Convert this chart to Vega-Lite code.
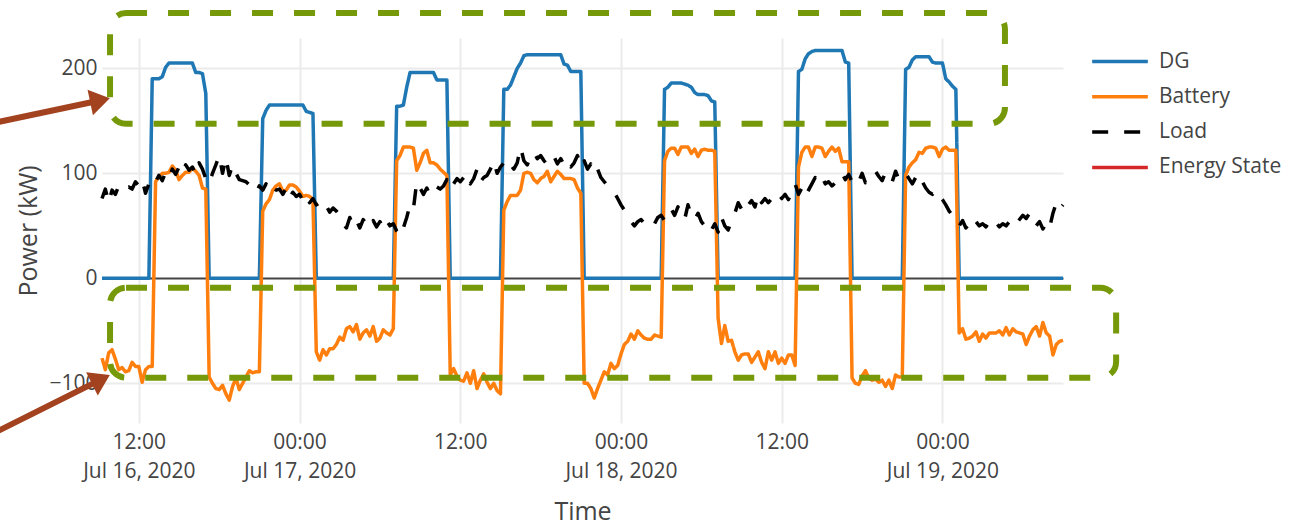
{
  "$schema": "https://vega.github.io/schema/vega-lite/v6.json",
  "autosize": {"type": "none"},
  "padding": {"left": 102, "top": 38, "right": 241, "bottom": 103},
  "width": 961,
  "height": 385,
  "background": "white",
  "config": {
    "view": {"stroke": null},
    "font": "Open Sans",
    "axis": {
      "labelFont": "Open Sans", "titleFont": "Open Sans", "labelColor": "#444", "titleColor": "#444",
      "titleFontWeight": "normal", "domain": false, "ticks": false, "gridColor": "#ebebeb", "gridWidth": 2,
      "labelFontSize": 21, "titleFontSize": 25
    },
    "legend": {"labelFont": "Open Sans"}
  },
  "layer": [
    {
      "data": {"values": [
        {"t":"2020-07-16T09:15","DG":0,"Battery":-76,"Load":76},
        {"t":"2020-07-16T09:30","DG":0,"Battery":-87,"Load":85},
        {"t":"2020-07-16T09:45","DG":0,"Battery":-71,"Load":72},
        {"t":"2020-07-16T10:00","DG":0,"Battery":-68,"Load":84},
        {"t":"2020-07-16T10:15","DG":0,"Battery":-77,"Load":80},
        {"t":"2020-07-16T10:30","DG":0,"Battery":-87,"Load":88},
        {"t":"2020-07-16T10:45","DG":0,"Battery":-85,"Load":84},
        {"t":"2020-07-16T11:00","DG":0,"Battery":-89,"Load":86},
        {"t":"2020-07-16T11:15","DG":0,"Battery":-88,"Load":87},
        {"t":"2020-07-16T11:30","DG":0,"Battery":-80,"Load":85},
        {"t":"2020-07-16T11:45","DG":0,"Battery":-84,"Load":92},
        {"t":"2020-07-16T12:00","DG":0,"Battery":-84,"Load":88},
        {"t":"2020-07-16T12:15","DG":0,"Battery":-99,"Load":94},
        {"t":"2020-07-16T12:30","DG":0,"Battery":-87,"Load":81},
        {"t":"2020-07-16T12:45","DG":0,"Battery":-84,"Load":90},
        {"t":"2020-07-16T13:00","DG":190,"Battery":-84,"Load":96},
        {"t":"2020-07-16T13:15","DG":190,"Battery":92,"Load":92},
        {"t":"2020-07-16T13:30","DG":190,"Battery":97,"Load":98},
        {"t":"2020-07-16T13:45","DG":192,"Battery":100,"Load":93},
        {"t":"2020-07-16T14:00","DG":201,"Battery":100,"Load":101},
        {"t":"2020-07-16T14:15","DG":205,"Battery":101,"Load":96},
        {"t":"2020-07-16T14:30","DG":205,"Battery":107,"Load":104},
        {"t":"2020-07-16T14:45","DG":205,"Battery":103,"Load":99},
        {"t":"2020-07-16T15:00","DG":205,"Battery":94,"Load":106},
        {"t":"2020-07-16T15:15","DG":205,"Battery":98,"Load":100},
        {"t":"2020-07-16T15:30","DG":205,"Battery":101,"Load":108},
        {"t":"2020-07-16T15:45","DG":205,"Battery":101,"Load":103},
        {"t":"2020-07-16T16:00","DG":205,"Battery":105,"Load":106},
        {"t":"2020-07-16T16:15","DG":196,"Battery":102,"Load":99},
        {"t":"2020-07-16T16:30","DG":196,"Battery":98,"Load":110},
        {"t":"2020-07-16T16:45","DG":195,"Battery":86,"Load":104},
        {"t":"2020-07-16T17:00","DG":176,"Battery":85,"Load":95},
        {"t":"2020-07-16T17:15","DG":0,"Battery":-94,"Load":90},
        {"t":"2020-07-16T17:30","DG":0,"Battery":-100,"Load":100},
        {"t":"2020-07-16T17:45","DG":0,"Battery":-105,"Load":108},
        {"t":"2020-07-16T18:00","DG":0,"Battery":-106,"Load":117},
        {"t":"2020-07-16T18:15","DG":0,"Battery":-102,"Load":100},
        {"t":"2020-07-16T18:30","DG":0,"Battery":-110,"Load":115},
        {"t":"2020-07-16T18:45","DG":0,"Battery":-116,"Load":98},
        {"t":"2020-07-16T19:00","DG":0,"Battery":-103,"Load":108},
        {"t":"2020-07-16T19:15","DG":0,"Battery":-95,"Load":100},
        {"t":"2020-07-16T19:30","DG":0,"Battery":-106,"Load":94},
        {"t":"2020-07-16T19:45","DG":0,"Battery":-100,"Load":93},
        {"t":"2020-07-16T20:00","DG":0,"Battery":-94,"Load":92},
        {"t":"2020-07-16T20:15","DG":0,"Battery":-88,"Load":89},
        {"t":"2020-07-16T20:30","DG":0,"Battery":-90,"Load":84},
        {"t":"2020-07-16T20:45","DG":0,"Battery":-89,"Load":82},
        {"t":"2020-07-16T21:00","DG":0,"Battery":-89,"Load":88},
        {"t":"2020-07-16T21:15","DG":152,"Battery":64,"Load":84},
        {"t":"2020-07-16T21:30","DG":160,"Battery":71,"Load":90},
        {"t":"2020-07-16T21:45","DG":165,"Battery":75,"Load":82},
        {"t":"2020-07-16T22:00","DG":165,"Battery":84,"Load":86},
        {"t":"2020-07-16T22:15","DG":165,"Battery":88,"Load":84},
        {"t":"2020-07-16T22:30","DG":165,"Battery":90,"Load":85},
        {"t":"2020-07-16T22:45","DG":165,"Battery":83,"Load":80},
        {"t":"2020-07-16T23:00","DG":165,"Battery":84,"Load":86},
        {"t":"2020-07-16T23:15","DG":165,"Battery":89,"Load":77},
        {"t":"2020-07-16T23:30","DG":165,"Battery":89,"Load":82},
        {"t":"2020-07-16T23:45","DG":165,"Battery":87,"Load":78},
        {"t":"2020-07-17T00:00","DG":165,"Battery":83,"Load":80},
        {"t":"2020-07-17T00:15","DG":165,"Battery":78,"Load":74},
        {"t":"2020-07-17T00:30","DG":159,"Battery":79,"Load":79},
        {"t":"2020-07-17T00:45","DG":158,"Battery":78,"Load":72},
        {"t":"2020-07-17T01:00","DG":157,"Battery":75,"Load":76},
        {"t":"2020-07-17T01:15","DG":0,"Battery":-70,"Load":70},
        {"t":"2020-07-17T01:30","DG":0,"Battery":-78,"Load":72},
        {"t":"2020-07-17T01:45","DG":0,"Battery":-68,"Load":66},
        {"t":"2020-07-17T02:00","DG":0,"Battery":-73,"Load":69},
        {"t":"2020-07-17T02:15","DG":0,"Battery":-67,"Load":63},
        {"t":"2020-07-17T02:30","DG":0,"Battery":-67,"Load":67},
        {"t":"2020-07-17T02:45","DG":0,"Battery":-63,"Load":64},
        {"t":"2020-07-17T03:00","DG":0,"Battery":-56,"Load":60},
        {"t":"2020-07-17T03:15","DG":0,"Battery":-59,"Load":52},
        {"t":"2020-07-17T03:30","DG":0,"Battery":-48,"Load":48},
        {"t":"2020-07-17T03:45","DG":0,"Battery":-46,"Load":58},
        {"t":"2020-07-17T04:00","DG":0,"Battery":-51,"Load":50},
        {"t":"2020-07-17T04:15","DG":0,"Battery":-44,"Load":55},
        {"t":"2020-07-17T04:30","DG":0,"Battery":-58,"Load":48},
        {"t":"2020-07-17T04:45","DG":0,"Battery":-52,"Load":56},
        {"t":"2020-07-17T05:00","DG":0,"Battery":-49,"Load":52},
        {"t":"2020-07-17T05:15","DG":0,"Battery":-55,"Load":48},
        {"t":"2020-07-17T05:30","DG":0,"Battery":-46,"Load":55},
        {"t":"2020-07-17T05:45","DG":0,"Battery":-60,"Load":49},
        {"t":"2020-07-17T06:00","DG":0,"Battery":-57,"Load":54},
        {"t":"2020-07-17T06:15","DG":0,"Battery":-49,"Load":48},
        {"t":"2020-07-17T06:30","DG":0,"Battery":-52,"Load":55},
        {"t":"2020-07-17T06:45","DG":0,"Battery":-54,"Load":50},
        {"t":"2020-07-17T07:00","DG":0,"Battery":-48,"Load":52},
        {"t":"2020-07-17T07:15","DG":164,"Battery":112,"Load":45},
        {"t":"2020-07-17T07:30","DG":164,"Battery":117,"Load":40},
        {"t":"2020-07-17T07:45","DG":165,"Battery":125,"Load":48},
        {"t":"2020-07-17T08:00","DG":182,"Battery":125,"Load":58},
        {"t":"2020-07-17T08:15","DG":196,"Battery":125,"Load":70},
        {"t":"2020-07-17T08:30","DG":196,"Battery":124,"Load":66},
        {"t":"2020-07-17T08:45","DG":196,"Battery":103,"Load":92},
        {"t":"2020-07-17T09:00","DG":196,"Battery":110,"Load":86},
        {"t":"2020-07-17T09:15","DG":196,"Battery":119,"Load":80},
        {"t":"2020-07-17T09:30","DG":196,"Battery":122,"Load":86},
        {"t":"2020-07-17T09:45","DG":196,"Battery":110,"Load":79},
        {"t":"2020-07-17T10:00","DG":196,"Battery":110,"Load":84},
        {"t":"2020-07-17T10:15","DG":189,"Battery":108,"Load":87},
        {"t":"2020-07-17T10:30","DG":189,"Battery":104,"Load":85},
        {"t":"2020-07-17T10:45","DG":189,"Battery":101,"Load":88},
        {"t":"2020-07-17T11:00","DG":189,"Battery":98,"Load":94},
        {"t":"2020-07-17T11:15","DG":0,"Battery":-92,"Load":85},
        {"t":"2020-07-17T11:30","DG":0,"Battery":-86,"Load":90},
        {"t":"2020-07-17T11:45","DG":0,"Battery":-93,"Load":95},
        {"t":"2020-07-17T12:00","DG":0,"Battery":-97,"Load":92},
        {"t":"2020-07-17T12:15","DG":0,"Battery":-98,"Load":96},
        {"t":"2020-07-17T12:30","DG":0,"Battery":-90,"Load":100},
        {"t":"2020-07-17T12:45","DG":0,"Battery":-100,"Load":90},
        {"t":"2020-07-17T13:00","DG":0,"Battery":-88,"Load":95},
        {"t":"2020-07-17T13:15","DG":0,"Battery":-105,"Load":104},
        {"t":"2020-07-17T13:30","DG":0,"Battery":-97,"Load":92},
        {"t":"2020-07-17T13:45","DG":0,"Battery":-91,"Load":96},
        {"t":"2020-07-17T14:00","DG":0,"Battery":-99,"Load":98},
        {"t":"2020-07-17T14:15","DG":0,"Battery":-105,"Load":104},
        {"t":"2020-07-17T14:30","DG":0,"Battery":-100,"Load":112},
        {"t":"2020-07-17T14:45","DG":0,"Battery":-107,"Load":100},
        {"t":"2020-07-17T15:00","DG":0,"Battery":-110,"Load":106},
        {"t":"2020-07-17T15:15","DG":180,"Battery":65,"Load":110},
        {"t":"2020-07-17T15:30","DG":180,"Battery":73,"Load":104},
        {"t":"2020-07-17T15:45","DG":184,"Battery":79,"Load":108},
        {"t":"2020-07-17T16:00","DG":192,"Battery":79,"Load":104},
        {"t":"2020-07-17T16:15","DG":200,"Battery":79,"Load":110},
        {"t":"2020-07-17T16:30","DG":205,"Battery":84,"Load":125},
        {"t":"2020-07-17T16:45","DG":212,"Battery":100,"Load":112},
        {"t":"2020-07-17T17:00","DG":213,"Battery":101,"Load":108},
        {"t":"2020-07-17T17:15","DG":213,"Battery":100,"Load":116},
        {"t":"2020-07-17T17:30","DG":213,"Battery":94,"Load":120},
        {"t":"2020-07-17T17:45","DG":213,"Battery":91,"Load":114},
        {"t":"2020-07-17T18:00","DG":213,"Battery":95,"Load":117},
        {"t":"2020-07-17T18:15","DG":213,"Battery":97,"Load":112},
        {"t":"2020-07-17T18:30","DG":213,"Battery":102,"Load":108},
        {"t":"2020-07-17T18:45","DG":213,"Battery":92,"Load":114},
        {"t":"2020-07-17T19:00","DG":213,"Battery":97,"Load":116},
        {"t":"2020-07-17T19:15","DG":213,"Battery":102,"Load":109},
        {"t":"2020-07-17T19:30","DG":213,"Battery":99,"Load":114},
        {"t":"2020-07-17T19:45","DG":204,"Battery":95,"Load":108},
        {"t":"2020-07-17T20:00","DG":203,"Battery":95,"Load":112},
        {"t":"2020-07-17T20:15","DG":197,"Battery":95,"Load":106},
        {"t":"2020-07-17T20:30","DG":197,"Battery":94,"Load":110},
        {"t":"2020-07-17T20:45","DG":197,"Battery":86,"Load":117},
        {"t":"2020-07-17T21:00","DG":197,"Battery":81,"Load":106},
        {"t":"2020-07-17T21:15","DG":0,"Battery":-100,"Load":112},
        {"t":"2020-07-17T21:30","DG":0,"Battery":-100,"Load":104},
        {"t":"2020-07-17T21:45","DG":0,"Battery":-105,"Load":109},
        {"t":"2020-07-17T22:00","DG":0,"Battery":-114,"Load":100},
        {"t":"2020-07-17T22:15","DG":0,"Battery":-105,"Load":104},
        {"t":"2020-07-17T22:30","DG":0,"Battery":-97,"Load":96},
        {"t":"2020-07-17T22:45","DG":0,"Battery":-89,"Load":92},
        {"t":"2020-07-17T23:00","DG":0,"Battery":-92,"Load":88},
        {"t":"2020-07-17T23:15","DG":0,"Battery":-81,"Load":84},
        {"t":"2020-07-17T23:30","DG":0,"Battery":-86,"Load":82},
        {"t":"2020-07-17T23:45","DG":0,"Battery":-83,"Load":76},
        {"t":"2020-07-18T00:00","DG":0,"Battery":-72,"Load":70},
        {"t":"2020-07-18T00:15","DG":0,"Battery":-63,"Load":65},
        {"t":"2020-07-18T00:30","DG":0,"Battery":-60,"Load":60},
        {"t":"2020-07-18T00:45","DG":0,"Battery":-53,"Load":54},
        {"t":"2020-07-18T01:00","DG":0,"Battery":-58,"Load":50},
        {"t":"2020-07-18T01:15","DG":0,"Battery":-50,"Load":54},
        {"t":"2020-07-18T01:30","DG":0,"Battery":-54,"Load":56},
        {"t":"2020-07-18T01:45","DG":0,"Battery":-57,"Load":52},
        {"t":"2020-07-18T02:00","DG":0,"Battery":-58,"Load":54},
        {"t":"2020-07-18T02:15","DG":0,"Battery":-58,"Load":56},
        {"t":"2020-07-18T02:30","DG":0,"Battery":-54,"Load":52},
        {"t":"2020-07-18T02:45","DG":0,"Battery":-55,"Load":58},
        {"t":"2020-07-18T03:00","DG":0,"Battery":-56,"Load":60},
        {"t":"2020-07-18T03:15","DG":180,"Battery":112,"Load":55},
        {"t":"2020-07-18T03:30","DG":182,"Battery":121,"Load":62},
        {"t":"2020-07-18T03:45","DG":186,"Battery":124,"Load":66},
        {"t":"2020-07-18T04:00","DG":186,"Battery":124,"Load":60},
        {"t":"2020-07-18T04:15","DG":186,"Battery":118,"Load":68},
        {"t":"2020-07-18T04:30","DG":186,"Battery":125,"Load":62},
        {"t":"2020-07-18T04:45","DG":185,"Battery":125,"Load":56},
        {"t":"2020-07-18T05:00","DG":184,"Battery":125,"Load":70},
        {"t":"2020-07-18T05:15","DG":182,"Battery":119,"Load":60},
        {"t":"2020-07-18T05:30","DG":177,"Battery":123,"Load":56},
        {"t":"2020-07-18T05:45","DG":175,"Battery":116,"Load":62},
        {"t":"2020-07-18T06:00","DG":175,"Battery":122,"Load":54},
        {"t":"2020-07-18T06:15","DG":175,"Battery":123,"Load":50},
        {"t":"2020-07-18T06:30","DG":174,"Battery":122,"Load":53},
        {"t":"2020-07-18T06:45","DG":169,"Battery":122,"Load":46},
        {"t":"2020-07-18T07:00","DG":168,"Battery":121,"Load":52},
        {"t":"2020-07-18T07:15","DG":0,"Battery":-38,"Load":44},
        {"t":"2020-07-18T07:30","DG":0,"Battery":-62,"Load":58},
        {"t":"2020-07-18T07:45","DG":0,"Battery":-45,"Load":50},
        {"t":"2020-07-18T08:00","DG":0,"Battery":-60,"Load":46},
        {"t":"2020-07-18T08:15","DG":0,"Battery":-59,"Load":55},
        {"t":"2020-07-18T08:30","DG":0,"Battery":-70,"Load":62},
        {"t":"2020-07-18T08:45","DG":0,"Battery":-78,"Load":72},
        {"t":"2020-07-18T09:00","DG":0,"Battery":-73,"Load":66},
        {"t":"2020-07-18T09:15","DG":0,"Battery":-72,"Load":74},
        {"t":"2020-07-18T09:30","DG":0,"Battery":-72,"Load":70},
        {"t":"2020-07-18T09:45","DG":0,"Battery":-80,"Load":74},
        {"t":"2020-07-18T10:00","DG":0,"Battery":-75,"Load":68},
        {"t":"2020-07-18T10:15","DG":0,"Battery":-70,"Load":80},
        {"t":"2020-07-18T10:30","DG":0,"Battery":-80,"Load":72},
        {"t":"2020-07-18T10:45","DG":0,"Battery":-86,"Load":76},
        {"t":"2020-07-18T11:00","DG":0,"Battery":-70,"Load":72},
        {"t":"2020-07-18T11:15","DG":0,"Battery":-78,"Load":76},
        {"t":"2020-07-18T11:30","DG":0,"Battery":-70,"Load":74},
        {"t":"2020-07-18T11:45","DG":0,"Battery":-81,"Load":80},
        {"t":"2020-07-18T12:00","DG":0,"Battery":-76,"Load":76},
        {"t":"2020-07-18T12:15","DG":0,"Battery":-81,"Load":80},
        {"t":"2020-07-18T12:30","DG":0,"Battery":-73,"Load":75},
        {"t":"2020-07-18T12:45","DG":0,"Battery":-73,"Load":82},
        {"t":"2020-07-18T13:00","DG":0,"Battery":-83,"Load":90},
        {"t":"2020-07-18T13:15","DG":197,"Battery":106,"Load":80},
        {"t":"2020-07-18T13:30","DG":199,"Battery":120,"Load":86},
        {"t":"2020-07-18T13:45","DG":209,"Battery":125,"Load":78},
        {"t":"2020-07-18T14:00","DG":214,"Battery":125,"Load":84},
        {"t":"2020-07-18T14:15","DG":216,"Battery":116,"Load":90},
        {"t":"2020-07-18T14:30","DG":217,"Battery":125,"Load":96},
        {"t":"2020-07-18T14:45","DG":217,"Battery":125,"Load":92},
        {"t":"2020-07-18T15:00","DG":217,"Battery":124,"Load":97},
        {"t":"2020-07-18T15:15","DG":217,"Battery":116,"Load":90},
        {"t":"2020-07-18T15:30","DG":217,"Battery":121,"Load":92},
        {"t":"2020-07-18T15:45","DG":217,"Battery":125,"Load":88},
        {"t":"2020-07-18T16:00","DG":217,"Battery":121,"Load":91},
        {"t":"2020-07-18T16:15","DG":217,"Battery":124,"Load":96},
        {"t":"2020-07-18T16:30","DG":217,"Battery":111,"Load":100},
        {"t":"2020-07-18T16:45","DG":206,"Battery":111,"Load":94},
        {"t":"2020-07-18T17:00","DG":205,"Battery":111,"Load":99},
        {"t":"2020-07-18T17:15","DG":0,"Battery":-95,"Load":92},
        {"t":"2020-07-18T17:30","DG":0,"Battery":-100,"Load":96},
        {"t":"2020-07-18T17:45","DG":0,"Battery":-101,"Load":92},
        {"t":"2020-07-18T18:00","DG":0,"Battery":-93,"Load":100},
        {"t":"2020-07-18T18:15","DG":0,"Battery":-88,"Load":91},
        {"t":"2020-07-18T18:30","DG":0,"Battery":-95,"Load":95},
        {"t":"2020-07-18T18:45","DG":0,"Battery":-97,"Load":98},
        {"t":"2020-07-18T19:00","DG":0,"Battery":-96,"Load":102},
        {"t":"2020-07-18T19:15","DG":0,"Battery":-99,"Load":97},
        {"t":"2020-07-18T19:30","DG":0,"Battery":-97,"Load":93},
        {"t":"2020-07-18T19:45","DG":0,"Battery":-103,"Load":101},
        {"t":"2020-07-18T20:00","DG":0,"Battery":-97,"Load":98},
        {"t":"2020-07-18T20:15","DG":0,"Battery":-105,"Load":92},
        {"t":"2020-07-18T20:30","DG":0,"Battery":-92,"Load":102},
        {"t":"2020-07-18T20:45","DG":0,"Battery":-94,"Load":94},
        {"t":"2020-07-18T21:00","DG":0,"Battery":-94,"Load":97},
        {"t":"2020-07-18T21:15","DG":199,"Battery":98,"Load":100},
        {"t":"2020-07-18T21:30","DG":201,"Battery":106,"Load":95},
        {"t":"2020-07-18T21:45","DG":208,"Battery":110,"Load":90},
        {"t":"2020-07-18T22:00","DG":211,"Battery":113,"Load":96},
        {"t":"2020-07-18T22:15","DG":211,"Battery":120,"Load":88},
        {"t":"2020-07-18T22:30","DG":211,"Battery":119,"Load":92},
        {"t":"2020-07-18T22:45","DG":211,"Battery":124,"Load":86},
        {"t":"2020-07-18T23:00","DG":211,"Battery":125,"Load":82},
        {"t":"2020-07-18T23:15","DG":206,"Battery":125,"Load":80},
        {"t":"2020-07-18T23:30","DG":205,"Battery":124,"Load":84},
        {"t":"2020-07-18T23:45","DG":205,"Battery":116,"Load":79},
        {"t":"2020-07-19T00:00","DG":205,"Battery":123,"Load":75},
        {"t":"2020-07-19T00:15","DG":190,"Battery":125,"Load":70},
        {"t":"2020-07-19T00:30","DG":187,"Battery":122,"Load":64},
        {"t":"2020-07-19T00:45","DG":183,"Battery":122,"Load":60},
        {"t":"2020-07-19T01:00","DG":180,"Battery":122,"Load":56},
        {"t":"2020-07-19T01:15","DG":0,"Battery":-52,"Load":50},
        {"t":"2020-07-19T01:30","DG":0,"Battery":-48,"Load":55},
        {"t":"2020-07-19T01:45","DG":0,"Battery":-58,"Load":48},
        {"t":"2020-07-19T02:00","DG":0,"Battery":-57,"Load":52},
        {"t":"2020-07-19T02:15","DG":0,"Battery":-55,"Load":58},
        {"t":"2020-07-19T02:30","DG":0,"Battery":-51,"Load":54},
        {"t":"2020-07-19T02:45","DG":0,"Battery":-60,"Load":50},
        {"t":"2020-07-19T03:00","DG":0,"Battery":-53,"Load":52},
        {"t":"2020-07-19T03:15","DG":0,"Battery":-57,"Load":49},
        {"t":"2020-07-19T03:30","DG":0,"Battery":-52,"Load":54},
        {"t":"2020-07-19T03:45","DG":0,"Battery":-52,"Load":50},
        {"t":"2020-07-19T04:00","DG":0,"Battery":-52,"Load":53},
        {"t":"2020-07-19T04:15","DG":0,"Battery":-50,"Load":49},
        {"t":"2020-07-19T04:30","DG":0,"Battery":-54,"Load":52},
        {"t":"2020-07-19T04:45","DG":0,"Battery":-47,"Load":50},
        {"t":"2020-07-19T05:00","DG":0,"Battery":-54,"Load":54},
        {"t":"2020-07-19T05:15","DG":0,"Battery":-48,"Load":49},
        {"t":"2020-07-19T05:30","DG":0,"Battery":-51,"Load":52},
        {"t":"2020-07-19T05:45","DG":0,"Battery":-52,"Load":56},
        {"t":"2020-07-19T06:00","DG":0,"Battery":-53,"Load":60},
        {"t":"2020-07-19T06:15","DG":0,"Battery":-63,"Load":57},
        {"t":"2020-07-19T06:30","DG":0,"Battery":-55,"Load":62},
        {"t":"2020-07-19T06:45","DG":0,"Battery":-49,"Load":54},
        {"t":"2020-07-19T07:00","DG":0,"Battery":-46,"Load":50},
        {"t":"2020-07-19T07:15","DG":0,"Battery":-55,"Load":54},
        {"t":"2020-07-19T07:30","DG":0,"Battery":-42,"Load":47},
        {"t":"2020-07-19T07:45","DG":0,"Battery":-52,"Load":53},
        {"t":"2020-07-19T08:00","DG":0,"Battery":-55,"Load":48},
        {"t":"2020-07-19T08:15","DG":0,"Battery":-73,"Load":62},
        {"t":"2020-07-19T08:30","DG":0,"Battery":-63,"Load":72},
        {"t":"2020-07-19T08:45","DG":0,"Battery":-60,"Load":66},
        {"t":"2020-07-19T09:00","DG":0,"Battery":-59,"Load":70}
      ]},
      "transform": [{"fold": ["DG", "Battery", "Load"], "as": ["series", "power"]}],
      "encoding": {
        "x": {
          "field": "t", "type": "temporal", "title": "Time",
          "scale": {"domain": [{"year": 2020, "month": 7, "date": 16, "hours": 9, "minutes": 15}, {"year": 2020, "month": 7, "date": 19, "hours": 9}]},
          "axis": {
            "values": [
              {"year": 2020, "month": 7, "date": 16, "hours": 12},
              {"year": 2020, "month": 7, "date": 17, "hours": 0},
              {"year": 2020, "month": 7, "date": 17, "hours": 12},
              {"year": 2020, "month": 7, "date": 18, "hours": 0},
              {"year": 2020, "month": 7, "date": 18, "hours": 12},
              {"year": 2020, "month": 7, "date": 19, "hours": 0}
            ],
            "labelExpr": "hours(datum.value) == 0 || datum.index == 0 ? [timeFormat(datum.value, '%H:%M'), timeFormat(datum.value, '%b %-d, %Y')] : timeFormat(datum.value, '%H:%M')",
            "labelAlign": "center", "labelBaseline": "top", "labelPadding": 8, "labelLineHeight": 29.5,
            "labelFlush": false, "labelOverlap": false, "titlePadding": 18
          }
        },
        "y": {
          "field": "power", "type": "quantitative", "title": "Power (kW)",
          "scale": {"domain": [-137.8, 228.9], "nice": false, "zero": false},
          "axis": {
            "values": [-100, 0, 100, 200], "labelPadding": 5, "titlePadding": 7,
            "gridColor": {"condition": {"test": "datum.value === 0", "value": "#444444"}, "value": "#ebebeb"}
          }
        },
        "color": {
          "field": "series", "type": "nominal",
          "scale": {"domain": ["DG", "Battery", "Load", "Energy State"], "range": ["#1f77b4", "#ff7f0e", "#000000", "#d62728"]},
          "legend": {"title": null, "orient": "right", "offset": 12, "padding": 13, "symbolType": "stroke", "symbolSize": 3100, "symbolStrokeWidth": 3.5, "labelFontSize": 21, "labelColor": "#444", "labelOffset": 9, "rowPadding": 13.3, "clipHeight": 21}
        },
        "strokeDash": {
          "field": "series", "type": "nominal",
          "scale": {"domain": ["DG", "Battery", "Load", "Energy State"], "range": [[1, 0], [1, 0], [16, 16], [1, 0]]},
          "legend": {"title": null, "orient": "right", "offset": 12, "padding": 13, "symbolType": "stroke", "symbolSize": 3100, "symbolStrokeWidth": 3.5, "labelFontSize": 21, "labelColor": "#444", "labelOffset": 9, "rowPadding": 13.3, "clipHeight": 21}
        }
      },
      "layer": [
        {"transform": [{"filter": "datum.series === 'DG'"}], "mark": {"type": "line", "strokeWidth": 3.5, "strokeJoin": "round"}},
        {"transform": [{"filter": "datum.series === 'Battery'"}], "mark": {"type": "line", "strokeWidth": 3.5, "strokeJoin": "round"}},
        {"transform": [{"filter": "datum.series === 'Load'"}], "mark": {"type": "line", "strokeWidth": 3.5, "strokeJoin": "round"}}
      ]
    },
    {
      "data": {"values": [
        {"t": "2020-07-16T09:51", "t2": "2020-07-19T04:40", "v": 252.7, "v2": 147.2},
        {"t": "2020-07-16T09:51", "t2": "2020-07-19T12:58", "v": -8.9, "v2": -94.7}
      ]},
      "mark": {"type": "rect", "fillOpacity": 0, "stroke": "#76990a", "strokeWidth": 6, "strokeDash": [21, 21], "cornerRadius": 16},
      "encoding": {
        "x": {"field": "t", "type": "temporal", "title": "Time", "scale": {"domain": [{"year": 2020, "month": 7, "date": 16, "hours": 9, "minutes": 15}, {"year": 2020, "month": 7, "date": 19, "hours": 9}]}},
        "x2": {"field": "t2"},
        "y": {"field": "v", "type": "quantitative", "title": "Power (kW)", "scale": {"domain": [-137.8, 228.9], "nice": false, "zero": false}},
        "y2": {"field": "v2"}
      }
    },
    {
      "data": {"values": [
        {"t": "2020-07-16T00:00", "v": 144.8, "t2": "2020-07-16T09:05", "v2": 169.4},
        {"t": "2020-07-16T00:00", "v": -154.9, "t2": "2020-07-16T09:05", "v2": -96.9}
      ]},
      "mark": {"type": "rule", "color": "#a3421e", "strokeWidth": 6},
      "encoding": {
        "x": {"field": "t", "type": "temporal", "title": "Time", "scale": {"domain": [{"year": 2020, "month": 7, "date": 16, "hours": 9, "minutes": 15}, {"year": 2020, "month": 7, "date": 19, "hours": 9}]}},
        "x2": {"field": "t2"},
        "y": {"field": "v", "type": "quantitative", "title": "Power (kW)", "scale": {"domain": [-137.8, 228.9], "nice": false, "zero": false}},
        "y2": {"field": "v2"}
      }
    },
    {
      "data": {"values": [
        {"t": "2020-07-16T09:50", "v": 171.4, "arrow": "upper"},
        {"t": "2020-07-16T09:50", "v": -92.1, "arrow": "lower"}
      ]},
      "mark": {"type": "point", "shape": "M0,0L-1,-0.65L-1,0.65Z", "filled": true, "fill": "#a3421e", "opacity": 1, "strokeWidth": 0, "size": 1600},
      "encoding": {
        "x": {"field": "t", "type": "temporal", "title": "Time", "scale": {"domain": [{"year": 2020, "month": 7, "date": 16, "hours": 9, "minutes": 15}, {"year": 2020, "month": 7, "date": 19, "hours": 9}]}},
        "y": {"field": "v", "type": "quantitative", "title": "Power (kW)", "scale": {"domain": [-137.8, 228.9], "nice": false, "zero": false}},
        "angle": {"condition": {"test": "datum.arrow === 'upper'", "value": -12}, "value": -26.6}
      }
    }
  ]
}
